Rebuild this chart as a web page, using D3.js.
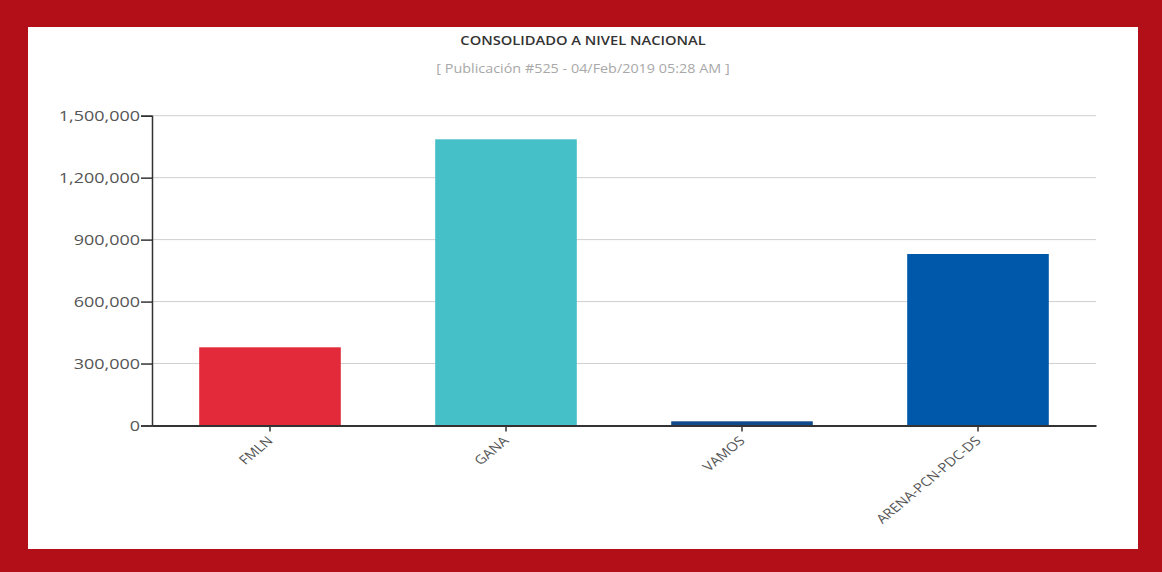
<!DOCTYPE html>
<html>
<head>
<meta charset="utf-8">
<script src="https://cdn.jsdelivr.net/npm/d3@7"></script>
<style>
  html, body { margin: 0; padding: 0; background: #b30f18; }
  svg { display: block; }
</style>
</head>
<body>
<svg id="chart" width="1162" height="572"></svg>
<script>
const categories = ["FMLN", "GANA", "VAMOS", "ARENA-PCN-PDC-DS"];
const votes = [378600, 1385700, 20300, 830400];
const barColors = ["#e32a3a", "#46c0c8", "#0e4a8c", "#0058ab"];
const yTicks = [0, 300000, 600000, 900000, 1200000, 1500000];
const titleText = "CONSOLIDADO A NIVEL NACIONAL";
const subtitleText = "[ Publicación #525 - 04/Feb/2019 05:28 AM ]";

const svg = d3.select("#chart");
svg.append("rect").attr("x", 0).attr("y", 0).attr("width", 1162).attr("height", 572).attr("fill", "#b30f18");
svg.append("rect").attr("x", 28).attr("y", 27).attr("width", 1110).attr("height", 522).attr("fill", "#ffffff");

const font = "'Open Sans', 'Noto Sans', sans-serif";
const stretch = 1.2; // the reference is slightly stretched horizontally

svg.append("text").attr("transform", "translate(583,45) scale(1.13,1)").attr("text-anchor", "middle")
  .attr("font-family", font).attr("font-size", 13).attr("font-weight", 600)
  .attr("fill", "#333").text(titleText);
svg.append("text").attr("transform", "translate(583,73) scale(1.15,1)").attr("text-anchor", "middle")
  .attr("font-family", font).attr("font-size", 12.5).attr("fill", "#a8a8a8").text(subtitleText);

const plotLeft = 152, plotRight = 1096, plotTop = 115.7, plotBottom = 425.5;
const x = d3.scaleBand().domain(categories).range([plotLeft, plotRight]).paddingInner(0.4).paddingOuter(0.2);
const y = d3.scaleLinear().domain([0, 1500000]).range([plotBottom, plotTop]);

// gridlines
svg.append("g").selectAll("line").data(yTicks.filter(d => d > 0)).join("line")
  .attr("x1", plotLeft).attr("x2", plotRight)
  .attr("y1", d => y(d)).attr("y2", d => y(d))
  .attr("stroke", "#cfcfcf").attr("stroke-width", 1);

// bars
svg.append("g").selectAll("rect").data(categories).join("rect")
  .attr("x", d => x(d)).attr("width", x.bandwidth())
  .attr("y", (d, i) => y(votes[i])).attr("height", (d, i) => plotBottom - y(votes[i]))
  .attr("fill", (d, i) => barColors[i]);

// y axis
const yAxis = svg.append("g").attr("transform", `translate(${plotLeft},0)`)
  .call(d3.axisLeft(y).tickValues(yTicks).tickFormat(d3.format(",")).tickSize(11).tickPadding(2));
yAxis.select(".domain").attr("stroke", "#333").attr("stroke-width", 1.5);
yAxis.selectAll(".tick line").attr("stroke", "#333").attr("stroke-width", 1.5);
yAxis.selectAll(".tick text").attr("font-family", font).attr("font-size", 14.5).attr("fill", "#555")
  .attr("x", 0).attr("transform", "translate(-12,0) scale(1.24,1)");

// x axis
const xAxis = svg.append("g").attr("transform", `translate(0,${plotBottom})`)
  .call(d3.axisBottom(x).tickSize(6).tickSizeOuter(0));
xAxis.select(".domain").attr("stroke", "#333").attr("stroke-width", 2);
xAxis.selectAll(".tick line").attr("stroke", "#333").attr("stroke-width", 1.5);
xAxis.selectAll(".tick text")
  .attr("font-family", font).attr("font-size", 12.5).attr("fill", "#555")
  .attr("text-anchor", "end")
  .attr("x", 0).attr("y", 0).attr("dy", "0.35em")
  .attr("transform", `translate(0,13) scale(${stretch},1) rotate(-45)`);
</script>
</body>
</html>
